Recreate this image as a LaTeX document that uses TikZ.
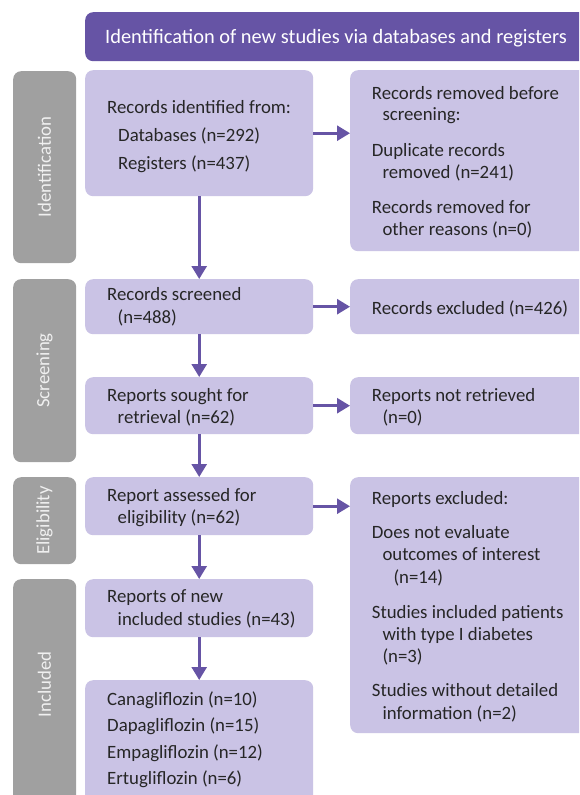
\documentclass[tikz,border=0pt]{standalone}
\usepackage{fontspec}
\setmainfont{Carlito}
\usetikzlibrary{arrows.meta}
\definecolor{hdr}{HTML}{6654A5}
\definecolor{lav}{HTML}{CAC3E5}
\definecolor{grayb}{HTML}{A0A0A0}
\definecolor{txtc}{HTML}{262626}
\definecolor{sidetxt}{HTML}{F0F0F0}
\newcommand\fsz{\fontsize{18.8}{22}\selectfont}
\newcommand\hfsz{\fontsize{20.4}{24}\selectfont}
\begin{document}
\begin{tikzpicture}[x=1pt,y=-1pt,
  boxbase/.style={rounded corners=8pt, anchor=north west, inner sep=0pt, draw=none},
  lbox/.style={boxbase, fill=lav},
  gbox/.style={boxbase, fill=grayb},
  hbox/.style={boxbase, fill=hdr},
  txt/.style={anchor=base west, inner sep=0pt, text=txtc, font=\fsz},
  htxt/.style={anchor=base west, inner sep=0pt, text=white, font=\hfsz},
  side/.style={inner sep=0pt, text=sidetxt, font=\fsz, rotate=90},
  arr/.style={draw=hdr, line width=2.6pt, -{Triangle[length=13pt,width=15pt]}}
]
\clip (0,0) rectangle (579,795);
\fill[white] (0,0) rectangle (579,795);
% header
\node[hbox, minimum width=520pt, minimum height=49pt] (hdrbox) at (85,12) {};
\node[htxt] (hdrtxt) at (105,43.3) {Identification of new studies via databases and registers};
% side bars
\node[gbox, minimum width=63pt, minimum height=192pt] (g1) at (13,71) {};
\node[gbox, minimum width=63pt, minimum height=183pt] (g2) at (13,279) {};
\node[gbox, minimum width=63pt, minimum height=87pt] (g3) at (13,477) {};
\node[gbox, minimum width=63pt, minimum height=240pt] (g4) at (13,579) {};
\node[side] (s1) at (44.5,167) {Identification};
\node[side] (s2) at (44.5,370.5) {Screening};
\node[side] (s3) at (44.5,520.5) {Eligibility};
\node[side] (s4) at (44.5,684.5) {Included};
% left boxes
\node[lbox, minimum width=228pt, minimum height=126pt] (b1) at (85,70) {};
\node[lbox, minimum width=228pt, minimum height=55pt] (b2) at (85,279) {};
\node[lbox, minimum width=228pt, minimum height=57pt] (b3) at (85,377) {};
\node[lbox, minimum width=228pt, minimum height=58pt] (b4) at (85,477) {};
\node[lbox, minimum width=228pt, minimum height=58pt] (b5) at (85,579) {};
\node[lbox, minimum width=228pt, minimum height=140pt] (b6) at (85,680) {};
% right boxes
\node[lbox, minimum width=250pt, minimum height=181pt] (r1) at (350,70) {};
\node[lbox, minimum width=250pt, minimum height=55pt] (r2) at (350,279) {};
\node[lbox, minimum width=250pt, minimum height=57pt] (r3) at (350,377) {};
\node[lbox, minimum width=250pt, minimum height=256pt] (r4) at (350,477) {};
% texts left
\node[txt] (b1a) at (107,113.3) {Records identified from:};
\node[txt] (b1b) at (118,141.7) {Databases (n=292)};
\node[txt] (b1c) at (118,169.3) {Registers (n=437)};
\node[txt] (b2a) at (107,300.7) {Records screened};
\node[txt] (b2b) at (117.5,323.3) {(n=488)};
\node[txt] (b3a) at (107,401.7) {Reports sought for};
\node[txt] (b3b) at (117.5,423.3) {retrieval (n=62)};
\node[txt] (b4a) at (107,501.7) {Report assessed for};
\node[txt] (b4b) at (117.5,523.3) {eligibility (n=62)};
\node[txt] (b5a) at (107,602.7) {Reports of new};
\node[txt] (b5b) at (117.5,625) {included studies (n=43)};
\node[txt] (b6a) at (107,705) {Canagliflozin (n=10)};
\node[txt] (b6b) at (107,731.7) {Dapagliflozin (n=15)};
\node[txt] (b6c) at (107,758.3) {Empagliflozin (n=12)};
\node[txt] (b6d) at (107,784) {Ertugliflozin (n=6)};
% texts right
\node[txt] (r1a) at (371.7,99) {Records removed before};
\node[txt] (r1b) at (382.3,120.7) {screening:};
\node[txt] (r1c) at (371.7,156) {Duplicate records};
\node[txt] (r1d) at (382.3,178.3) {removed (n=241)};
\node[txt] (r1e) at (371.7,213.3) {Records removed for};
\node[txt] (r1f) at (382.3,235) {other reasons (n=0)};
\node[txt] (r2a) at (371.7,314) {Records excluded (n=426)};
\node[txt] (r3a) at (371.7,401.7) {Reports not retrieved};
\node[txt] (r3b) at (382.3,423.3) {(n=0)};
\node[txt] (r4a) at (371.7,504) {Reports excluded:};
\node[txt] (r4b) at (371.7,538.3) {Does not evaluate};
\node[txt] (r4c) at (382.3,560.7) {outcomes of interest};
\node[txt] (r4d) at (393.3,583.3) {(n=14)};
\node[txt] (r4e) at (371.7,618.3) {Studies included patients};
\node[txt] (r4f) at (382.3,640) {with type I diabetes};
\node[txt] (r4g) at (382.3,662.7) {(n=3)};
\node[txt] (r4h) at (371.7,696.7) {Studies without detailed};
\node[txt] (r4i) at (382.3,719.3) {information (n=2)};
% arrows
\draw[arr] (b1.south) -- (b2.north);
\draw[arr] (b2.south) -- (b3.north);
\draw[arr] (b3.south) -- (b4.north);
\draw[arr] (b4.south) -- (b5.north);
\draw[arr] (b5.south) -- (b6.north);
\draw[arr] (b1.east) -- (b1.east -| r1.west);
\draw[arr] (b2.east) -- (b2.east -| r2.west);
\draw[arr] (b3.east) -- (b3.east -| r3.west);
\draw[arr] (b4.east) -- (b4.east -| r4.west);
\end{tikzpicture}
\end{document}
